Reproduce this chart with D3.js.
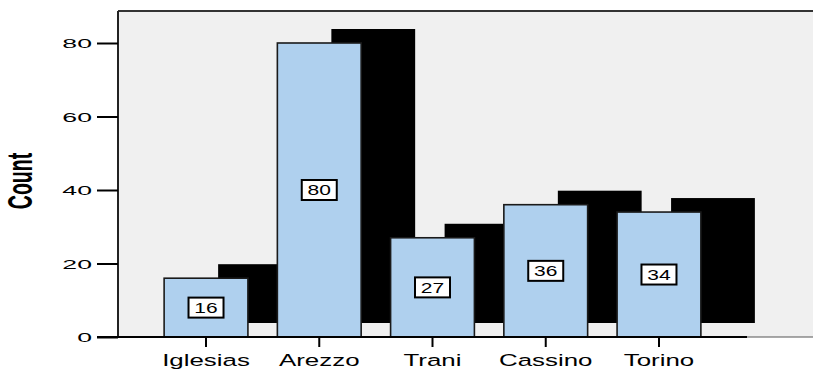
<!DOCTYPE html>
<html>
<head>
<meta charset="utf-8">
<script src="https://cdn.jsdelivr.net/npm/d3@7"></script>
<style>
  body { margin: 0; background: #fff; }
  text { font-family: "Liberation Sans", Arial, sans-serif; fill: #000; }
</style>
</head>
<body>
<svg width="813" height="369"></svg>
<script>
const categories = ["Iglesias", "Arezzo", "Trani", "Cassino", "Torino"];
const counts = [16, 80, 27, 36, 34];
const yTicks = [0, 20, 40, 60, 80];

const svg = d3.select("svg");
// plot frame (the picture is stretched sideways, so text gets scaleX)
const plotLeft = 118, plotTop = 11, plotRight = 813, plotBottom = 337;

const x = d3.scaleBand()
    .domain(categories)
    .range([149.4, 715.6])
    .paddingInner(0.26)
    .paddingOuter(0.13);
const y = d3.scaleLinear().domain([0, 80]).range([plotBottom, 43]);

// background
svg.append("rect")
    .attr("x", plotLeft).attr("y", plotTop)
    .attr("width", plotRight - plotLeft).attr("height", plotBottom - plotTop)
    .attr("fill", "#f0f0f0");

// shadow offset
const dx = 54, dy = -14;

svg.append("g").selectAll("rect")
    .data(counts)
    .join("rect")
    .attr("x", (d, i) => x(categories[i]) + dx)
    .attr("y", d => y(d) + dy)
    .attr("width", x.bandwidth())
    .attr("height", d => plotBottom - y(d))
    .attr("fill", "#000");

svg.append("g").selectAll("rect")
    .data(counts)
    .join("rect")
    .attr("x", (d, i) => x(categories[i]))
    .attr("y", d => y(d))
    .attr("width", x.bandwidth())
    .attr("height", d => plotBottom - y(d))
    .attr("fill", "#afd0ee")
    .attr("stroke", "#1a1a1a")
    .attr("stroke-width", 1.6);

// value boxes
const labels = svg.append("g").selectAll("g")
    .data(counts)
    .join("g")
    .attr("transform", (d, i) => `translate(${x(categories[i]) + x.bandwidth() / 2},${(y(d) + plotBottom) / 2})`);
labels.append("rect")
    .attr("x", -17.5).attr("y", -10)
    .attr("width", 35).attr("height", 20)
    .attr("fill", "#fff")
    .attr("stroke", "#000")
    .attr("stroke-width", 2);
labels.append("text")
    .attr("transform", "translate(0,5.2) scale(1.5,1)")
    .attr("text-anchor", "middle")
    .attr("font-size", 14)
    .text(d => d);

// frame lines
svg.append("line")
    .attr("x1", plotLeft).attr("x2", plotRight).attr("y1", plotTop).attr("y2", plotTop)
    .attr("stroke", "#333").attr("stroke-width", 2);
svg.append("line")
    .attr("x1", plotLeft).attr("x2", plotLeft).attr("y1", plotTop).attr("y2", plotBottom)
    .attr("stroke", "#222").attr("stroke-width", 2);
svg.append("line")
    .attr("x1", 747).attr("x2", plotRight).attr("y1", plotBottom).attr("y2", plotBottom)
    .attr("stroke", "#555").attr("stroke-width", 1.2);
svg.append("line")
    .attr("x1", 97).attr("x2", 747).attr("y1", plotBottom).attr("y2", plotBottom)
    .attr("stroke", "#000").attr("stroke-width", 2);

// y axis
const yAxis = svg.append("g")
    .attr("transform", `translate(${plotLeft},0)`)
    .call(d3.axisLeft(y).tickValues(yTicks).tickSize(21).tickSizeOuter(0));
yAxis.select(".domain").remove();
yAxis.selectAll("line").attr("stroke", "#000").attr("stroke-width", 2);
yAxis.selectAll("text")
    .attr("x", null).attr("dy", null)
    .attr("transform", "translate(-26,4.6) scale(2.05,1)")
    .attr("text-anchor", "end")
    .attr("font-size", 13)
    .attr("font-family", null);

// x axis
const xAxis = svg.append("g")
    .attr("transform", `translate(0,${plotBottom})`)
    .call(d3.axisBottom(x).tickSize(10).tickSizeOuter(0));
xAxis.select(".domain").remove();
xAxis.selectAll("line").attr("stroke", "#000").attr("stroke-width", 2);
xAxis.selectAll("text")
    .attr("y", null).attr("dy", null)
    .attr("transform", `translate(0,29) scale(1.57,1)`)
    .attr("font-size", 16.5)
    .attr("font-family", null);

// y title
svg.append("text")
    .attr("transform", "translate(32,181) scale(1.84,1) rotate(-90)")
    .attr("text-anchor", "middle")
    .attr("font-size", 19.5)
    .attr("font-weight", "bold")
    .text("Count");
</script>
</body>
</html>
